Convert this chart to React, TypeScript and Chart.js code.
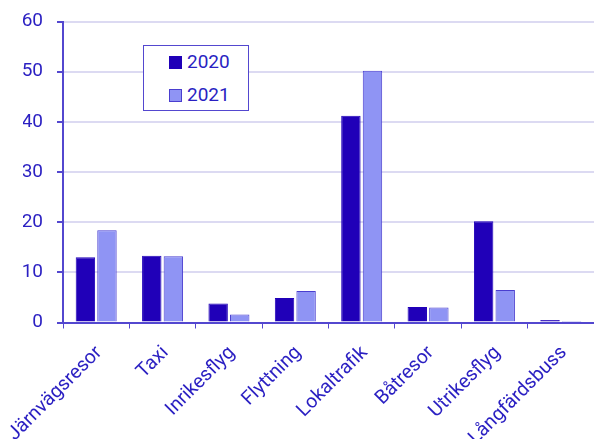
import React, { useEffect, useRef } from "react";
import { Chart, registerables } from "chart.js";

Chart.register(...registerables);

const categories = [
  "Järnvägsresor",
  "Taxi",
  "Inrikesflyg",
  "Flyttning",
  "Lokaltrafik",
  "Båtresor",
  "Utrikesflyg",
  "Långfärdsbuss",
];
const values2020 = [13.0, 13.3, 3.8, 4.9, 41.2, 3.1, 20.2, 0.5];
const values2021 = [18.4, 13.2, 1.6, 6.3, 50.2, 3.0, 6.5, 0.3];
const seriesNames = ["2020", "2021"];

const TEXT = "#2a1fc2";
const AXIS = "#5347cf";
const GRID = "#dcdaf2";
const C2020 = "#2000b8";
const C2021 = "#8f94f4";
const FONT = "Roboto";
const CANVAS_H = 450;

export default function App() {
  const ref = useRef<HTMLCanvasElement | null>(null);

  useEffect(() => {
    if (!ref.current) return;
    const chart = new Chart(ref.current, {
      type: "bar",
      data: {
        labels: categories,
        datasets: [
          {
            label: seriesNames[0],
            data: values2020,
            backgroundColor: C2020,
            borderColor: C2020,
            borderWidth: 1,
            barPercentage: 0.9,
            categoryPercentage: 0.65,
          },
          {
            label: seriesNames[1],
            data: values2021,
            backgroundColor: C2021,
            borderColor: "#4a3ecf",
            borderWidth: 1,
            barPercentage: 0.9,
            categoryPercentage: 0.65,
          },
        ],
      },
      options: {
        responsive: false,
        animation: false,
        layout: { padding: { left: 23, top: 21.5, right: 0, bottom: 0 } },
        plugins: {
          legend: { display: false },
          tooltip: { enabled: false },
        },
        scales: {
          x: {
            afterFit: (scale: any) => {
              scale.paddingLeft = 0;
              scale.paddingRight = 0;
              scale.height = CANVAS_H - 322.5;
            },
            grid: {
              display: true,
              drawOnChartArea: false,
              drawTicks: true,
              tickLength: 6,
              tickColor: AXIS,
              offset: true,
            },
            border: { display: true, color: AXIS, width: 2 },
            ticks: {
              color: TEXT,
              font: { family: FONT, size: 19.5 },
              minRotation: 45,
              maxRotation: 45,
              padding: 13,
              labelOffset: 3,
              autoSkip: false,
            },
          },
          y: {
            afterFit: (scale: any) => {
              scale.width = 40;
              scale.paddingTop = 0;
              scale.paddingBottom = 0;
            },
            min: 0,
            max: 60,
            grid: {
              color: GRID,
              lineWidth: 2,
              tickColor: AXIS,
              tickLength: 6,
            },
            border: { display: true, color: AXIS, width: 2 },
            ticks: {
              stepSize: 10,
              color: TEXT,
              font: { family: FONT, size: 19 },
              padding: 14,
            },
          },
        },
      },
    });
    return () => chart.destroy();
  }, []);

  return (
    <div
      style={{
        position: "fixed",
        left: 0,
        top: 0,
        width: 594,
        height: 439,
        overflow: "hidden",
        background: "#fff",
      }}
    >
      <canvas ref={ref} width={594} height={CANVAS_H} style={{ display: "block" }} />
      <div
        style={{
          position: "absolute",
          left: 143,
          top: 45,
          width: 104,
          height: 64,
          border: `1px solid ${AXIS}`,
          background: "#fff",
          fontFamily: FONT,
          fontSize: 19,
          color: TEXT,
        }}
      >
        {seriesNames.map((name, i) => (
          <div
            key={name}
            style={{
              position: "absolute",
              left: 25,
              top: 5 + i * 33,
              height: 22,
              display: "flex",
              alignItems: "center",
            }}
          >
            <span
              style={{
                display: "inline-block",
                width: 11,
                height: 11,
                background: i === 0 ? C2020 : C2021,
                border: `1px solid ${i === 0 ? C2020 : "#4a3ecf"}`,
                marginRight: 5,
              }}
            />
            <span style={{ lineHeight: "22px" }}>{name}</span>
          </div>
        ))}
      </div>
    </div>
  );
}
